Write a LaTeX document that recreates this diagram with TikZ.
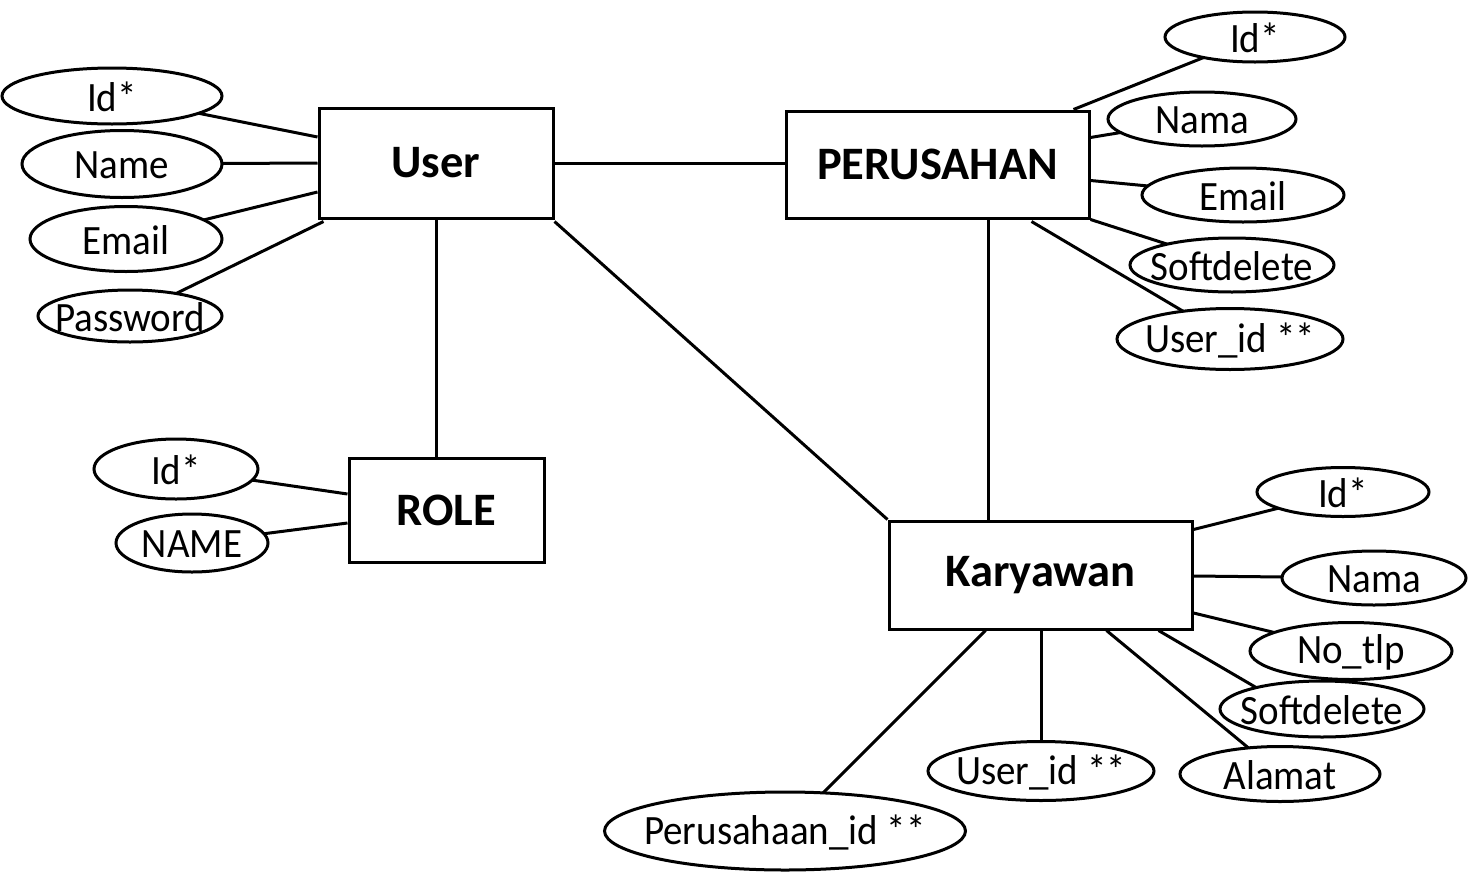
\documentclass[tikz,border=0pt]{standalone}
\usepackage{fontspec}
\setmainfont{Carlito}
\usetikzlibrary{shapes.geometric,calc}
\pgfdeclarelayer{bg}
\pgfsetlayers{bg,main}
\begin{document}
\begin{tikzpicture}[x=1pt,y=-1pt,
  ent/.style n args={2}{draw,fill=white,line width=3pt,minimum width=#1,minimum height=#2,inner sep=0pt,font=\fontsize{46.5}{56}\selectfont\bfseries},
  attr/.style n args={3}{ellipse,draw,fill=white,line width=3pt,minimum width=#1,minimum height=#2,inner sep=0pt,
     label={[font=\fontsize{39}{47}\selectfont,inner sep=0pt,yshift=-1pt]center:\scalebox{1}[1.07]{#3}}},
  conn/.style={line width=3pt}]
\useasboundingbox (0,0) rectangle (1468,876);
% entities
\node[ent={234pt}{110pt}] (user) at (436,163) {User};
\node[ent={303pt}{107pt}] (perus) at (937.5,164.5) {PERUSAHAN};
\node[ent={195pt}{104pt}] (role) at (446.5,510) {ROLE};
\node[ent={303pt}{108pt}] (kary) at (1040.5,575) {Karyawan};
% user attributes
\node[attr={220pt}{56pt}{Id*}] (uid) at (112,96) {};
\node[attr={200pt}{67pt}{Name}] (uname) at (122,164) {};
\node[attr={192pt}{65pt}{Email}] (uemail) at (126,239) {};
\node[attr={184pt}{52pt}{Password}] (upass) at (130,316) {};
% perusahaan attributes
\node[attr={180pt}{50pt}{Id*}] (pid) at (1255,37) {};
\node[attr={188pt}{54pt}{Nama}] (pnama) at (1202,119) {};
\node[attr={202pt}{54pt}{Email}] (pemail) at (1243,195) {};
\node[attr={204pt}{54pt}{Softdelete}] (psoft) at (1232,265) {};
\node[attr={226pt}{61pt}{User\_id **}] (puser) at (1230,339) {};
% role attributes
\node[attr={164pt}{60pt}{Id*}] (rid) at (176,469) {};
\node[attr={152pt}{58pt}{NAME}] (rname) at (192,543) {};
% karyawan attributes
\node[attr={172pt}{49pt}{Id*}] (kid) at (1343,492) {};
\node[attr={184pt}{54pt}{Nama}] (knama) at (1374,578) {};
\node[attr={202pt}{57pt}{No\_tlp}] (ktlp) at (1351,651) {};
\node[attr={204pt}{56pt}{Softdelete}] (ksoft) at (1322,709) {};
\node[attr={200pt}{55pt}{Alamat}] (kalamat) at (1280,774) {};
\node[attr={226pt}{59pt}{User\_id **}] (kuser) at (1041,771) {};
\node[attr={361pt}{78pt}{Perusahaan\_id **}] (kper) at (785,831) {};
\begin{pgfonlayer}{bg}
\fill[white] (0,0) rectangle (1468,876);
% user
\draw[conn] ($(user.west)+(0,-26)$) -- (uid.center);
\draw[conn] (user.west) -- (uname.center);
\draw[conn] ($(user.west)+(0,29)$) -- (uemail.center);
\draw[conn] ($(user.south west)+(6,2)$) -- (upass.center);
\draw[conn] (user.east) -- (user.east -| perus.west);
\draw[conn] (user.south) -- (user.south |- role.north);
\draw[conn] ($(user.south east)+(0,2)$) -- (kary.north west);
% perusahaan
\draw[conn] ($(perus.north east)+(-17,0)$) -- (pid.center);
\draw[conn] ($(perus.east)+(0,-27)$) -- (pnama.center);
\draw[conn] ($(perus.east)+(0,16)$) -- (pemail.center);
\draw[conn] (perus.south east) -- (psoft.center);
\draw[conn] ($(perus.south east)+(-59,2)$) -- (puser.center);
\draw[conn] ($(perus.south)+(51,0)$) coordinate (pk) -- (pk |- kary.north);
% role
\draw[conn] ($(role.west)+(0,-16)$) -- (rid.center);
\draw[conn] ($(role.west)+(0,13)$) -- (rname.center);
% karyawan
\draw[conn] ($(kary.north east)+(0,10)$) -- (kid.center);
\draw[conn] ($(kary.east)+(0,1)$) -- (knama.center);
\draw[conn] ($(kary.east)+(0,38)$) -- (ktlp.center);
\draw[conn] ($(kary.south east)+(-35,0)$) -- ($(ksoft.center)+(0,17)$);
\draw[conn] ($(kary.south east)+(-87,0)$) -- (kalamat.center);
\draw[conn] (kary.south -| kuser) -- (kuser.center);
\draw[conn] ($(kary.south west)+(98,0)$) -- (kper.center);
\end{pgfonlayer}
\end{tikzpicture}
\end{document}
